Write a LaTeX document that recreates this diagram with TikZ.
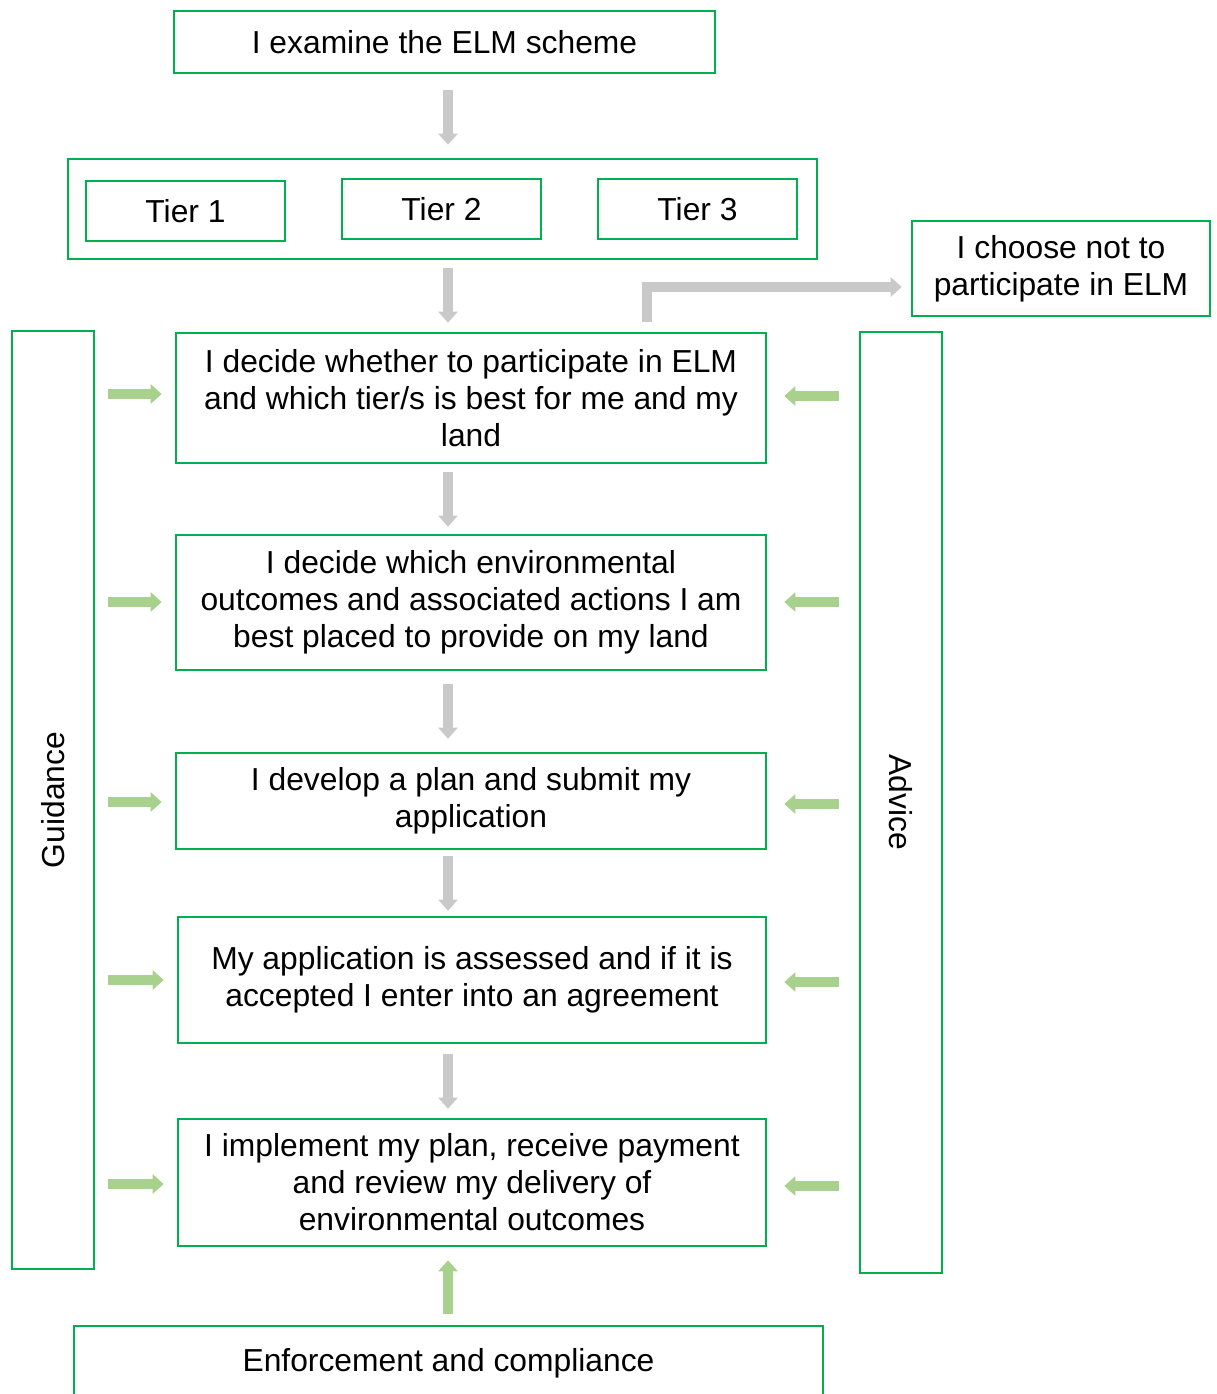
\documentclass[tikz,border=0pt]{standalone}
\usepackage{fontspec}
\setmainfont{Liberation Sans}
\usepackage{graphicx}
\usetikzlibrary{arrows.meta}
\definecolor{boxgreen}{HTML}{00B050}
\definecolor{arrgray}{HTML}{C9C9C9}
\definecolor{arrgreen}{HTML}{A9D18E}
\begin{document}
\begin{tikzpicture}[x=1pt,y=-1pt,
  box/.style={draw=boxgreen, line width=2.6pt, inner sep=0pt, align=center,
    font=\fontsize{31.8}{37}\selectfont},
  grayarr/.style={draw=arrgray, line width=9.5pt, line join=miter,
    -{Triangle[length=11pt,width=19pt]}},
  greenarr/.style={draw=arrgreen, line width=9.5pt,
    -{Triangle[length=11pt,width=19pt]}}]
\useasboundingbox (0,0) rectangle (1216,1394);
\clip (0,0) rectangle (1216,1394);
% boxes
\node[box, minimum width=541pt, minimum height=62pt] (top) at (444.5,42) {I examine the ELM scheme};
\node[box, minimum width=749pt, minimum height=100pt] (tiers) at (442.5,209) {};
\node[box, minimum width=199pt, minimum height=60pt] (t1) at (185.5,211) {Tier 1};
\node[box, minimum width=199pt, minimum height=60pt] (t2) at (441.5,209) {Tier 2};
\node[box, minimum width=199pt, minimum height=60pt] (t3) at (697.5,209) {Tier 3};
\node[box, minimum width=298pt, minimum height=95pt] (choose) at (1061,268.5) {I choose not to\\participate in ELM};
\node[box, minimum width=82pt, minimum height=938pt] (guid) at (53,800) {\rotatebox{90}{Guidance}};
\node[box, minimum width=82pt, minimum height=941pt] (adv) at (901,802.5) {\rotatebox{-90}{Advice}};
\node[box, minimum width=590pt, minimum height=130pt] (b1) at (471,398) {I decide whether to participate in ELM\\and which tier/s is best for me and my\\land};
\node[box, minimum width=590pt, minimum height=135pt] (b2) at (471,602.5) {I decide which environmental\\outcomes and associated actions I am\\best placed to provide on my land};
\node[box, minimum width=590pt, minimum height=96pt] (b3) at (471,801) {I develop a plan and submit my\\application};
\node[box, minimum width=588pt, minimum height=126pt] (b4) at (472,980) {My application is assessed and if it is\\accepted I enter into an agreement};
\node[box, minimum width=588pt, minimum height=127pt] (b5) at (472,1182.5) {I implement my plan, receive payment\\and review my delivery of\\environmental outcomes};
\node[box, minimum width=749pt, minimum height=74pt] (enf) at (448.5,1363) {Enforcement and compliance};
% gray arrows
\coordinate (ax) at (448,0);
\coordinate (elb) at (647,287);
\draw[grayarr] ([yshift=-16pt]top.south -| ax) -- ([yshift=13pt]tiers.north -| ax);
\draw[grayarr] ([yshift=-8pt]tiers.south -| ax) -- ([yshift=9pt]b1.north -| ax);
\draw[grayarr] ([yshift=-8pt]b1.south -| ax) -- ([yshift=7pt]b2.north -| ax);
\draw[grayarr] ([yshift=-13pt]b2.south -| ax) -- ([yshift=13pt]b3.north -| ax);
\draw[grayarr] ([yshift=-6pt]b3.south -| ax) -- ([yshift=5pt]b4.north -| ax);
\draw[grayarr] ([yshift=-10pt]b4.south -| ax) -- ([yshift=9pt]b5.north -| ax);
\draw[grayarr] ([yshift=10pt]b1.north -| elb) |- ([xshift=-9pt]choose.west |- elb);
% green arrows
\draw[greenarr] ([yshift=11pt]enf.north -| ax) -- ([yshift=-13pt]b5.south -| ax);
\foreach \b/\dl/\dr in {b1/4/2, b2/0.5/0.5, b3/-1/-3, b4/0/-2, b5/-1.5/-3.5} {
  \draw[greenarr] ([xshift=13pt,yshift=\dl pt]guid.east |- \b.west) -- ([xshift=-13pt,yshift=\dl pt]\b.west);
  \draw[greenarr] ([xshift=-20pt,yshift=\dr pt]adv.west |- \b.east) -- ([xshift=17pt,yshift=\dr pt]\b.east);
}
\end{tikzpicture}
\end{document}
